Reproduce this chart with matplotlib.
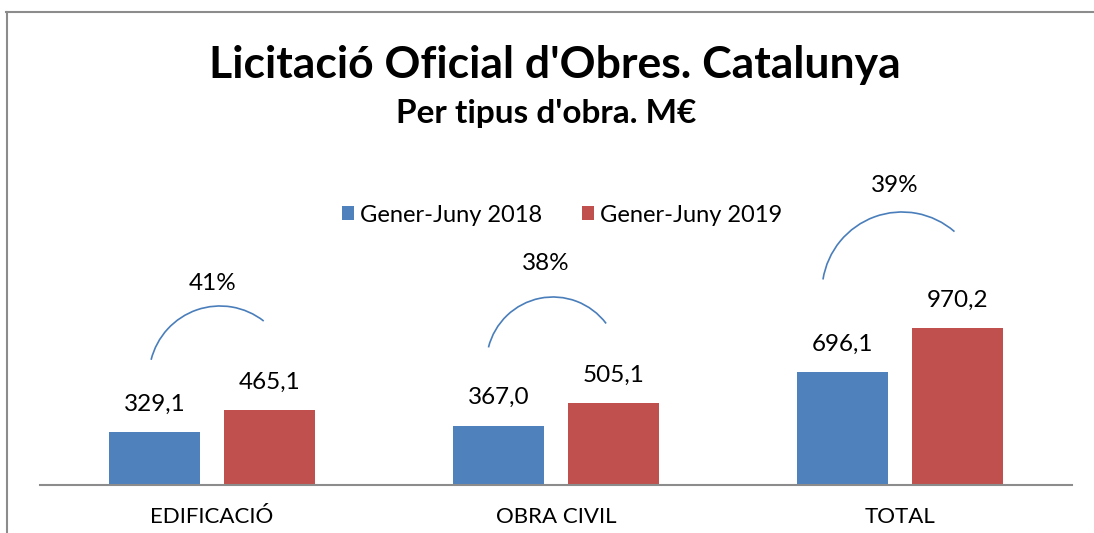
import matplotlib
matplotlib.use("Agg")
import matplotlib.pyplot as plt
import matplotlib.transforms as mtrans
from matplotlib.patches import Arc
from matplotlib.lines import Line2D
import numpy as np

plt.rcParams['font.family'] = ['Lato', 'DejaVu Sans']

# Data
categories = ["EDIFICACIÓ", "OBRA CIVIL", "TOTAL"]
series_names = ["Gener-Juny 2018", "Gener-Juny 2019"]
vals_2018 = [329.1, 367.0, 696.1]
vals_2019 = [465.1, 505.1, 970.2]
value_labels_2018 = ["329,1", "367,0", "696,1"]
value_labels_2019 = ["465,1", "505,1", "970,2"]
pct_labels = ["41%", "38%", "39%"]

blue = "#4F81BD"
red = "#C0504D"
arc_color = "#4A7EBB"
grey = "#8C8C8C"

W, H = 1094, 533
fig = plt.figure(figsize=(W / 100, H / 100), dpi=100)

# plot area in pixels: baseline at y=485, x from 40 to 1072
px_per_unit = 0.1618
ax_h = 300
ax = fig.add_axes([40 / W, (H - 485) / H, 1032 / W, ax_h / H])
ax.set_xlim(-0.5, 2.5)
ax.set_ylim(0, ax_h / px_per_unit)

x = np.arange(len(categories))
bw = 0.267
off = 0.167
ax.bar(x - off, vals_2018, bw, color=blue, label=series_names[0])
ax.bar(x + off, vals_2019, bw, color=red, label=series_names[1])

val_fs = 17.5
for xi, v, lab in zip(x - off, vals_2018, value_labels_2018):
    ax.annotate(lab, (xi, v), xytext=(0, 20), textcoords="offset points",
                ha="center", va="center", fontsize=val_fs)
for xi, v, lab in zip(x + off, vals_2019, value_labels_2019):
    ax.annotate(lab, (xi, v), xytext=(0, 20), textcoords="offset points",
                ha="center", va="center", fontsize=val_fs)

# arcs: (dx px from category centre, centre height px above baseline, radius px, theta1, theta2, label gap px)
arc_layout = [(8, 108, 71, 52, 166, 23),
              (-3, 121.5, 66.5, 37, 166, 33),
              (2, 193, 80, 49, 171, 26)]
for xi, (dx, h, r, t1, t2, gap), pct in zip(x, arc_layout, pct_labels):
    cy = h / px_per_unit
    tr = fig.dpi_scale_trans + mtrans.ScaledTranslation(xi, cy, ax.transData) \
        + mtrans.ScaledTranslation(dx / 100, 0, fig.dpi_scale_trans)
    ax.add_patch(Arc((0, 0), 2 * r / 100, 2 * r / 100, theta1=t1, theta2=t2,
                     transform=tr, color=arc_color, lw=1.2, clip_on=False))
    ax.annotate(pct, (xi, cy), xytext=((dx - 7) * 0.72, (r + gap) * 0.72),
                textcoords="offset points", ha="center", va="center", fontsize=val_fs)

ax.set_xticks(x)
ax.set_xticklabels(categories, fontsize=16)
ax.tick_params(axis="x", length=0, pad=16)
ax.set_yticks([])
for s in ["top", "left", "right"]:
    ax.spines[s].set_visible(False)
ax.spines["bottom"].set_color(grey)
ax.spines["bottom"].set_linewidth(1.5)

# titles
fig.text(555 / W, 1 - 65 / H, "Licitació Oficial d'Obres. Catalunya", ha="center", va="center",
         fontsize=32, fontweight="bold")
fig.text(546 / W, 1 - 114 / H, "Per tipus d'obra. M€", ha="center", va="center",
         fontsize=24, fontweight="bold")

ax.legend(loc="center", bbox_to_anchor=(562 / W, 1 - 215 / H), bbox_transform=fig.transFigure,
          ncol=2, frameon=False, fontsize=17, handlelength=0.5, handleheight=0.5,
          handletextpad=0.25, columnspacing=1.7)

# chart border
fig.add_artist(Line2D([6 / W, 1], [1 - 12 / H, 1 - 12 / H], color=grey, lw=1.5))
fig.add_artist(Line2D([7 / W, 7 / W], [0, 1 - 12 / H], color=grey, lw=1.5))

fig.savefig("out.png", dpi=100)
